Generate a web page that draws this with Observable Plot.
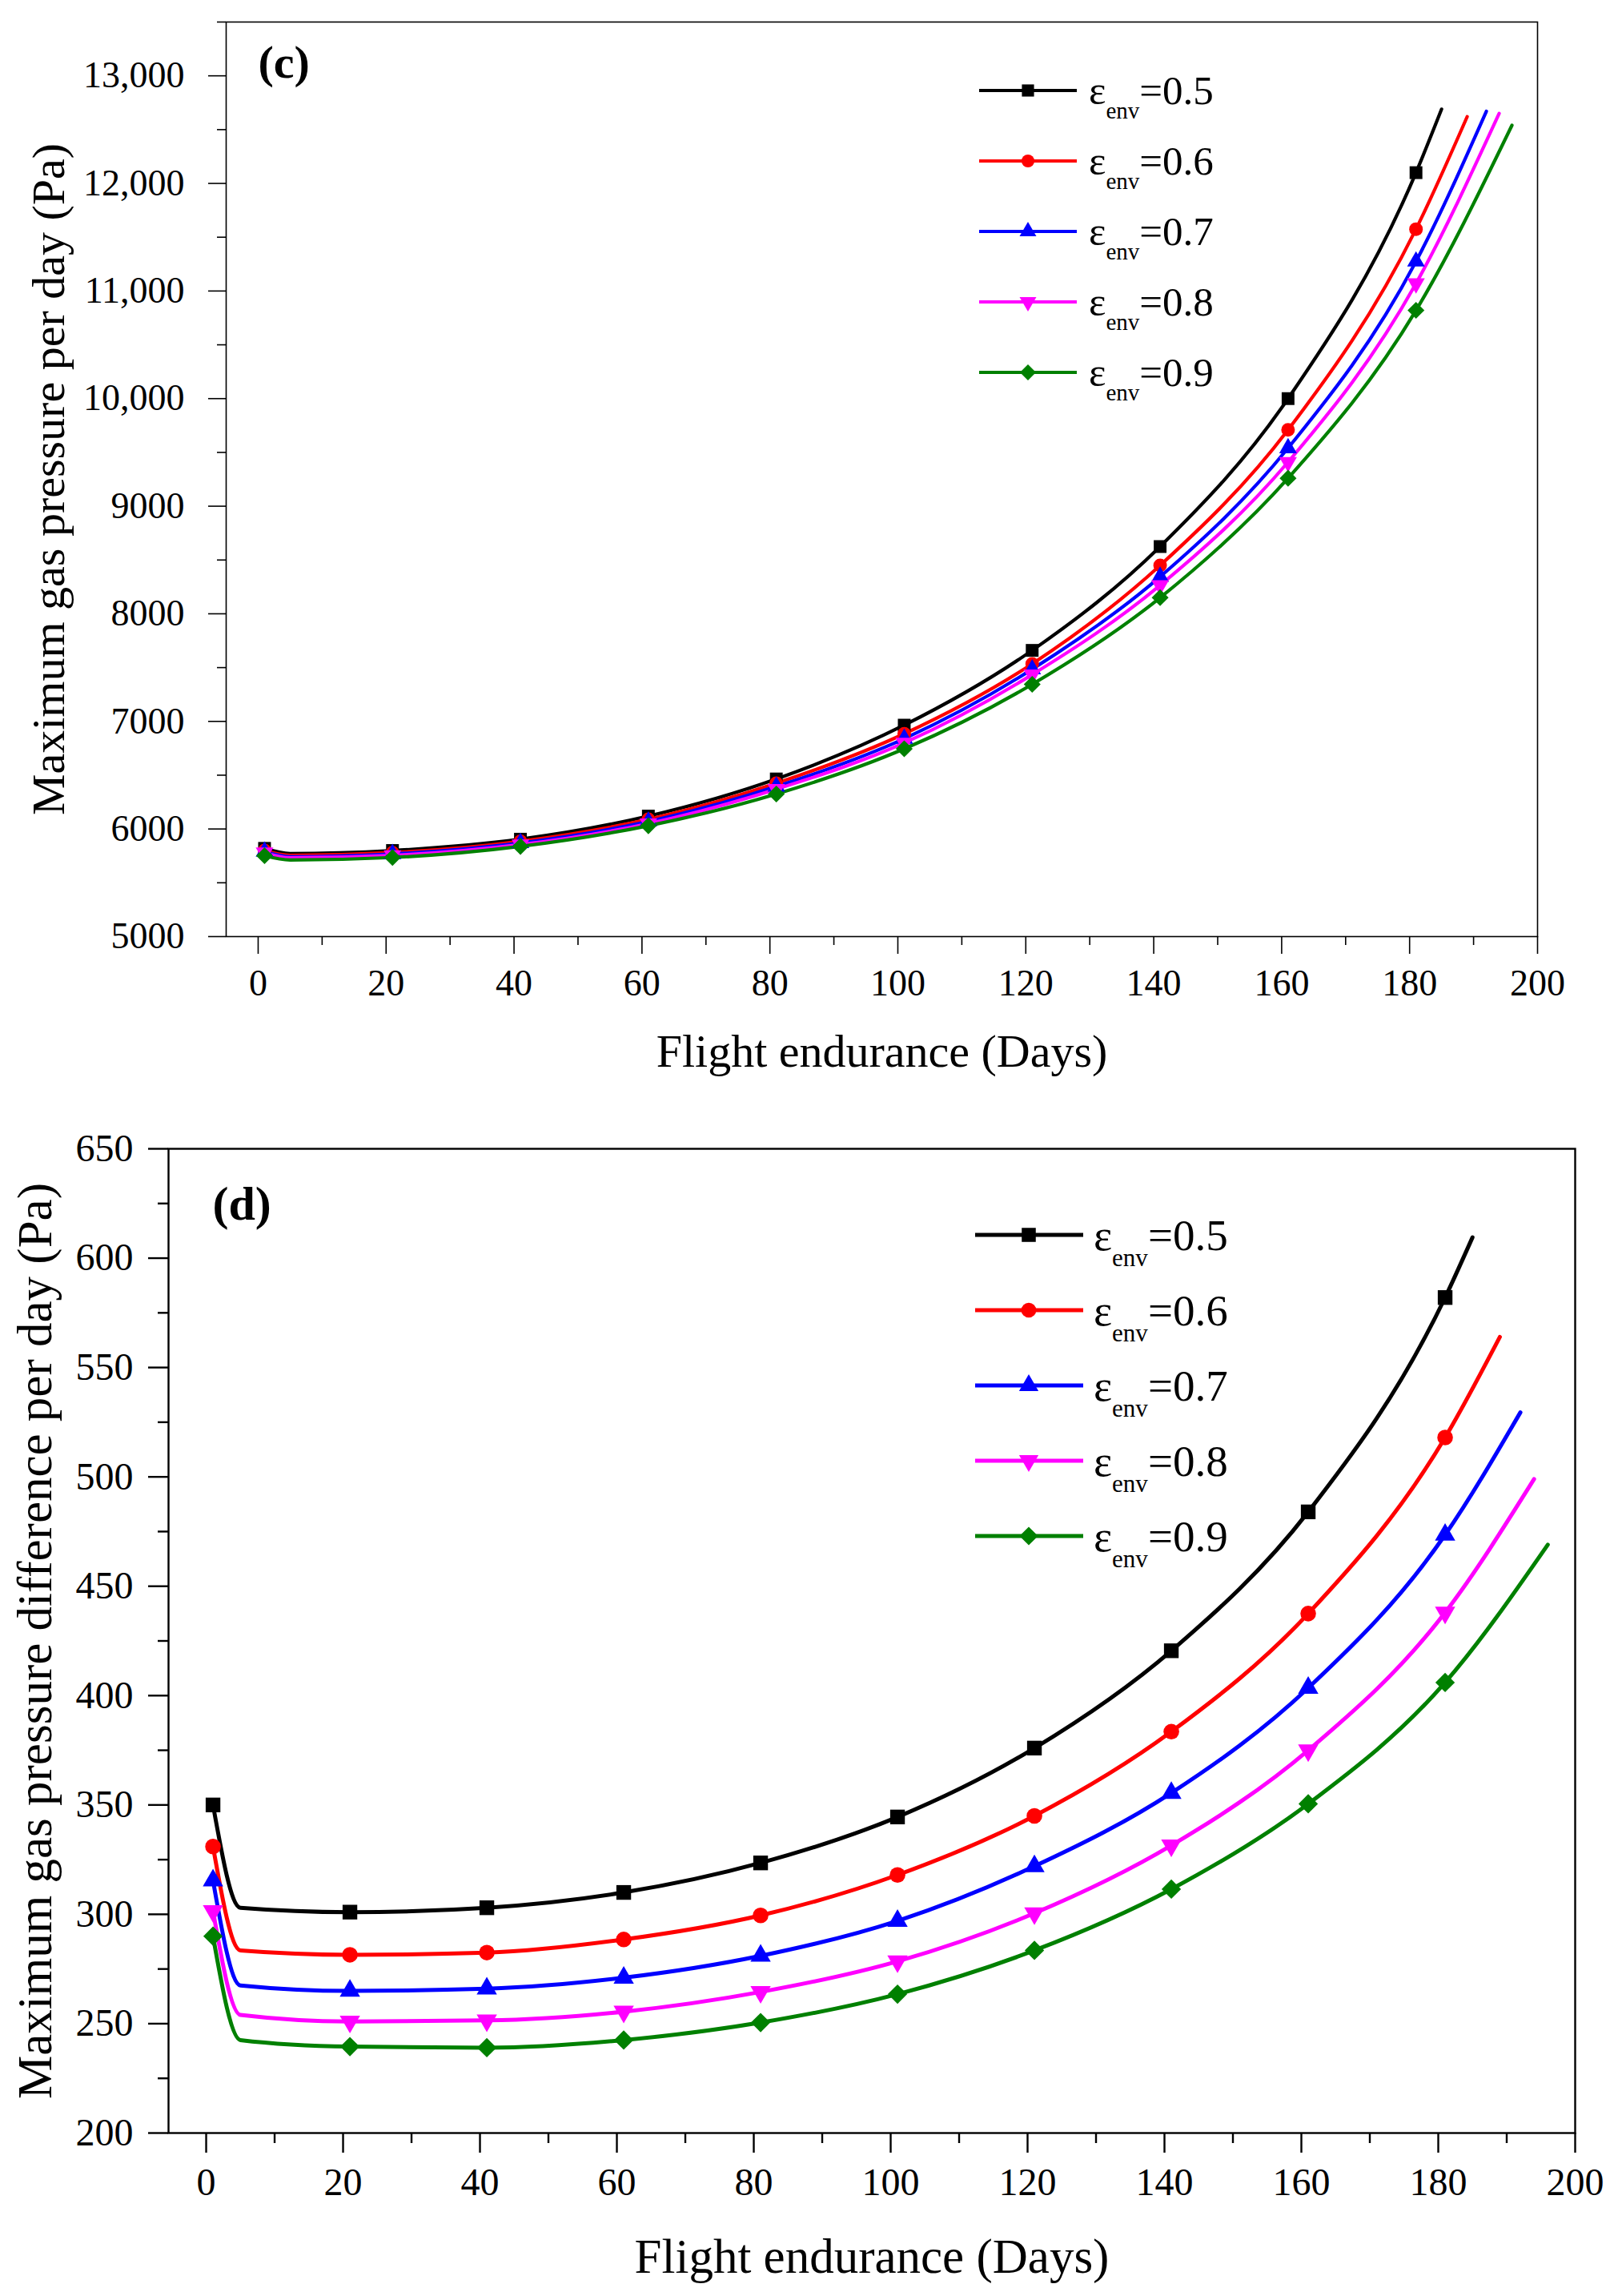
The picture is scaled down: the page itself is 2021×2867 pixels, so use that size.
<!DOCTYPE html>
<html>
<head>
<meta charset="utf-8">
<script src="https://cdn.jsdelivr.net/npm/d3@7"></script>
<script src="https://cdn.jsdelivr.net/npm/@observablehq/plot@0.6"></script>
<style>
  body { margin: 0; background: #fff; }
  #fig { position: relative; width: 2021px; height: 2867px; background: #fff; }
  #fig svg { position: absolute; left: 0; }
  #fig svg text { font-family: "Liberation Serif", "Times New Roman", serif; }
</style>
</head>
<body>
<div id="fig"></div>
<script>
// days where the curves were sampled (markers every 20 days from day 1)
const days = [1, 5, 21, 41, 61, 81, 101, 121, 141, 161, 181];
const endDays = [185, 189, 192, 194, 196];
const emissivity = ["0.5", "0.6", "0.7", "0.8", "0.9"];
const colors = ["#000000", "#ff0000", "#0000ff", "#ff00ff", "#008000"];

// (c) maximum gas pressure per day (Pa)
const maxPressure05 = [5820, 5772, 5800, 5905, 6120, 6465, 6965, 7660, 8625, 10000, 12100, 12690];
const maxPressure06 = [5800, 5755, 5780, 5885, 6090, 6425, 6885, 7535, 8450, 9710, 11575, 12620];
const maxPressure07 = [5790, 5742, 5768, 5870, 6070, 6395, 6840, 7485, 8345, 9540, 11275, 12670];
const maxPressure08 = [5780, 5732, 5755, 5855, 6050, 6370, 6800, 7435, 8265, 9410, 11070, 12650];
const maxPressure09 = [5752, 5712, 5735, 5838, 6030, 6325, 6745, 7345, 8150, 9260, 10820, 12540];

// (d) maximum gas pressure difference per day (Pa)
const maxDiff05 = [350, 303, 301, 303, 310, 323.5, 344.5, 376, 420.5, 484, 582, 609.5];
const maxDiff06 = [331, 283.5, 281.5, 282.5, 288.5, 299.5, 318, 345, 383.5, 437.5, 518, 564];
const maxDiff07 = [315.5, 267.5, 265, 266, 271, 281, 297, 322, 355.5, 403.5, 473.5, 529.5];
const maxDiff08 = [301.5, 254, 251, 251.5, 255.5, 264.5, 278.5, 300.5, 331.5, 375, 438, 499];
const maxDiff09 = [290, 242.5, 239.5, 239, 242.5, 250.5, 263.5, 283.5, 311.5, 350.5, 406, 469];

const xTicks = [0, 20, 40, 60, 80, 100, 120, 140, 160, 180, 200];
const xMinor = [10, 30, 50, 70, 90, 110, 130, 150, 170, 190];
const yTicksC = [5000, 6000, 7000, 8000, 9000, 10000, 11000, 12000, 13000];
const yMinorC = [5500, 6500, 7500, 8500, 9500, 10500, 11500, 12500, 13500];
const yTicksD = [200, 250, 300, 350, 400, 450, 500, 550, 600, 650];
const yMinorD = [225, 275, 325, 375, 425, 475, 525, 575, 625];

const font = "Liberation Serif";

// downward triangle, same geometry as d3.symbolTriangle flipped
const triangleDown = {
  draw(context, size) {
    const y = -Math.sqrt(size / (Math.sqrt(3) * 3));
    context.moveTo(0, -y * 2);
    context.lineTo(-Math.sqrt(3) * y, y);
    context.lineTo(Math.sqrt(3) * y, y);
    context.closePath();
  }
};
const symbols = [d3.symbolSquare, d3.symbolCircle, d3.symbolTriangle, triangleDown, d3.symbolDiamond2];
const symbolR = [9, 8.5, 8.2, 8.2, 9.5];

function toRows(values, k) {
  const xs = [...days, endDays[k]];
  return values.map((v, i) => ({day: xs[i], value: v}));
}

function chart(cfg) {
  const marks = [];
  cfg.series.forEach((values, k) => {
    const rows = toRows(values, k);
    marks.push(Plot.line(rows, {x: "day", y: "value", stroke: colors[k], strokeWidth: cfg.lineWidth, curve: "monotone-x"}));
  });
  cfg.series.forEach((values, k) => {
    const pts = toRows(values, k).filter(d => d.day <= 181 && (d.day - 1) % 20 === 0);
    marks.push(Plot.dot(pts, {x: "day", y: "value", fill: colors[k], stroke: "none", symbol: symbols[k], r: symbolR[k] * cfg.markScale}));
  });
  return Plot.plot({
    width: 2021,
    height: cfg.height,
    marginLeft: cfg.ml, marginRight: cfg.mr, marginTop: cfg.mt, marginBottom: cfg.mb,
    x: {domain: cfg.xDomain},
    y: {domain: cfg.yDomain},
    style: {fontFamily: font, background: "transparent", overflow: "visible", color: "black"},
    marks: [
      Plot.axisX({ticks: xTicks, tickSize: cfg.tick, tickPadding: cfg.xPad, fontSize: cfg.tickFont, fontFamily: font, fontVariant: "normal", strokeWidth: cfg.axisWidth, label: null}),
      Plot.axisX({ticks: xMinor, tickSize: cfg.minor, tickFormat: () => "", strokeWidth: cfg.axisWidth, label: null}),
      Plot.axisY({ticks: cfg.yTicks, tickSize: cfg.tick, tickPadding: cfg.yPad, fontSize: cfg.tickFont, fontFamily: font, fontVariant: "normal", strokeWidth: cfg.axisWidth, tickFormat: cfg.yFormat, label: null}),
      Plot.axisY({ticks: cfg.yMinor, tickSize: cfg.minor, tickFormat: () => "", strokeWidth: cfg.axisWidth, label: null}),
      ...marks,
      Plot.frame({stroke: "black", strokeWidth: cfg.axisWidth}),
      Plot.text([cfg.xTitle], {frameAnchor: "bottom", dy: cfg.xTitleDy, fontSize: cfg.titleFont, lineAnchor: "middle", textAnchor: "middle", fill: "black"}),
      Plot.text([cfg.yTitle], {frameAnchor: "left", dx: cfg.yTitleDx, rotate: -90, fontSize: cfg.titleFont, lineAnchor: "middle", textAnchor: "middle", fill: "black"}),
      Plot.text([cfg.panel], {frameAnchor: "top-left", dx: cfg.panelDx, dy: cfg.panelDy, fontSize: cfg.panelFont, fontWeight: "bold", textAnchor: "start", lineAnchor: "middle", fill: "black"})
    ]
  });
}

const fig = document.getElementById("fig");

const chartC = chart({
  height: 1380, ml: 282, mr: 101, mt: 27, mb: 211,
  xDomain: [-5, 200], yDomain: [5000, 13500],
  yTicks: yTicksC, yMinor: yMinorC,
  yFormat: d => d >= 10000 ? d3.format(",")(d) : String(d),
  tick: 22, minor: 11, xPad: 19, yPad: 30, tickFont: 46, axisWidth: 1.6,
  lineWidth: 4.2, markScale: 1,
  series: [maxPressure05, maxPressure06, maxPressure07, maxPressure08, maxPressure09],
  xTitle: "Flight endurance (Days)", xTitleDy: 144,
  yTitle: "Maximum gas pressure per day (Pa)", yTitleDx: -221,
  titleFont: 58, panel: "(c)", panelDx: 40, panelDy: 51, panelFont: 58
});
chartC.style.top = "0px";
fig.appendChild(chartC);

const chartD = chart({
  height: 1487, ml: 210, mr: 54, mt: 54, mb: 204,
  xDomain: [-5.5, 200], yDomain: [200, 650],
  yTicks: yTicksD, yMinor: yMinorD,
  yFormat: d => String(d),
  tick: 25, minor: 13, xPad: 18, yPad: 19, tickFont: 48, axisWidth: 2.4,
  lineWidth: 5, markScale: 1.15,
  series: [maxDiff05, maxDiff06, maxDiff07, maxDiff08, maxDiff09],
  xTitle: "Flight endurance (Days)", xTitleDy: 155,
  yTitle: "Maximum gas pressure difference per day (Pa)", yTitleDx: -166,
  titleFont: 61, panel: "(d)", panelDx: 55, panelDy: 69, panelFont: 60
});
chartD.style.top = "1380px";
fig.appendChild(chartD);

// legends drawn on an overlay
const overlay = d3.select(fig).append("svg")
  .attr("width", 2021).attr("height", 2867)
  .style("top", "0px")
  .style("font-family", font);

function legend(g) {
  emissivity.forEach((e, k) => {
    const y = g.y0 + k * g.step;
    overlay.append("line")
      .attr("x1", g.x1).attr("x2", g.x2).attr("y1", y).attr("y2", y)
      .attr("stroke", colors[k]).attr("stroke-width", g.lw);
    overlay.append("path")
      .attr("transform", `translate(${g.xm},${y})`)
      .attr("d", d3.symbol(symbols[k], Math.PI * (symbolR[k] * g.scale) ** 2)())
      .attr("fill", colors[k]);
    const t = overlay.append("text")
      .attr("x", g.xt).attr("y", y + 0.34 * g.fs)
      .attr("font-size", g.fs).attr("fill", "black");
    t.append("tspan").text("ε");
    t.append("tspan").attr("dy", g.sub).attr("font-size", g.subFs).text("env");
    t.append("tspan").attr("dy", -g.sub).text("=" + e);
  });
}

legend({x1: 1223, x2: 1345, xm: 1284, y0: 113, step: 88, xt: 1360, fs: 51, subFs: 29, sub: 18, lw: 4.2, scale: 0.95});
legend({x1: 1218, x2: 1353, xm: 1285, y0: 1542, step: 94, xt: 1366, fs: 55, subFs: 31, sub: 20, lw: 5, scale: 1.1});
</script>
</body>
</html>
